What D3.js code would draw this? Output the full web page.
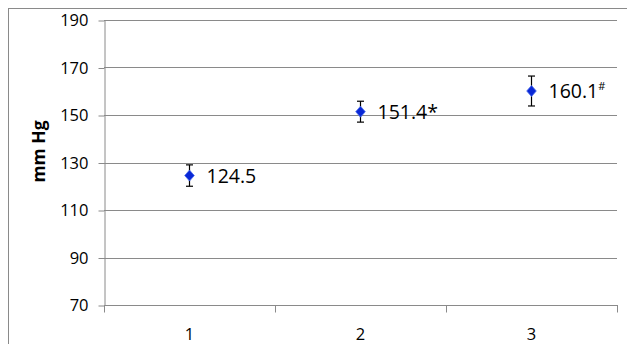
<!DOCTYPE html>
<html>
<head>
<meta charset="utf-8">
<script src="https://cdn.jsdelivr.net/npm/d3@7"></script>
<style>
  html, body { margin: 0; padding: 0; background: #fff; }
  svg { display: block; font-family: "Open Sans", "Noto Sans", sans-serif; }
</style>
</head>
<body>
<svg id="chart" width="627" height="344"></svg>
<script>
// Blood pressure by group (mean ± error)
const categories = ["1", "2", "3"];
const means = [124.5, 151.4, 160.1];
const errors = [4.5, 4.4, 6.3];
const labelMain = ["124.5", "151.4*", "160.1"];
const labelSup = ["", "", "#"];
const yTicks = [70, 90, 110, 130, 150, 170, 190];
const yTitle = "mm Hg";

const svg = d3.select("#chart");
const W = 627, H = 344;
const plot = { left: 104, top: 20, right: 617, bottom: 305 };
const grey = "#8a8a8a";

// outer chart frame (runs past the visible window on the right and bottom)
svg.append("rect")
  .attr("x", 8.5).attr("y", 8.5)
  .attr("width", W + 20).attr("height", H + 20)
  .attr("fill", "none").attr("stroke", grey).attr("stroke-width", 1);

const x = d3.scaleBand().domain(categories).range([plot.left, plot.right]).paddingInner(0).paddingOuter(0);
const y = d3.scaleLinear().domain([70, 190]).range([plot.bottom, plot.top]);

// horizontal gridlines
svg.append("g")
  .selectAll("line")
  .data(yTicks.filter(d => d !== 70))
  .join("line")
  .attr("x1", plot.left).attr("x2", plot.right)
  .attr("y1", d => Math.round(y(d)) + 0.5).attr("y2", d => Math.round(y(d)) + 0.5)
  .attr("stroke", grey).attr("stroke-width", 1);

// y axis
const yAxis = svg.append("g")
  .attr("transform", `translate(${plot.left + 0.5},0.5)`)
  .call(d3.axisLeft(y).tickValues(yTicks).tickSize(6).tickPadding(10).tickSizeOuter(0));
yAxis.select(".domain").attr("stroke", grey);
yAxis.selectAll(".tick line").attr("stroke", grey);
yAxis.selectAll(".tick text")
  .attr("fill", "#000").attr("font-size", 16.5)
  .attr("font-family", "'Open Sans', sans-serif");

// x axis: ticks on category boundaries, labels centred in each band
const boundaries = categories.map(c => x(c)).concat([x.range()[1]]);
const xg = svg.append("g").attr("transform", `translate(0,${plot.bottom + 0.5})`);
xg.append("line")
  .attr("x1", plot.left).attr("x2", plot.right + 1)
  .attr("stroke", grey);
xg.selectAll("line.tk")
  .data(boundaries)
  .join("line").attr("class", "tk")
  .attr("x1", d => Math.round(d) + 0.5).attr("x2", d => Math.round(d) + 0.5)
  .attr("y1", 0).attr("y2", 7)
  .attr("stroke", grey);
xg.selectAll("text")
  .data(categories)
  .join("text")
  .attr("x", d => x(d) + x.bandwidth() / 2)
  .attr("y", 34.5)
  .attr("text-anchor", "middle")
  .attr("font-size", 16.5)
  .attr("fill", "#000")
  .text(d => d);

// y axis title
svg.append("text")
  .attr("transform", `translate(45,${(plot.top + plot.bottom) / 2 - 11}) rotate(-90)`)
  .attr("text-anchor", "middle")
  .attr("font-size", 17.5)
  .attr("font-weight", "bold")
  .attr("fill", "#000")
  .text(yTitle);

const pts = categories.map((c, i) => ({ c, m: means[i], e: errors[i], lab: labelMain[i], sup: labelSup[i] }));
const cx = d => x(d.c) + x.bandwidth() / 2;

// error bars
const eb = svg.append("g").attr("stroke", "#000").attr("stroke-width", 1.2);
eb.selectAll("line.v").data(pts).join("line").attr("class", "v")
  .attr("x1", cx).attr("x2", cx)
  .attr("y1", d => y(d.m + d.e)).attr("y2", d => y(d.m - d.e));
eb.selectAll("line.t").data(pts).join("line").attr("class", "t")
  .attr("x1", d => cx(d) - 3.5).attr("x2", d => cx(d) + 3.5)
  .attr("y1", d => y(d.m + d.e)).attr("y2", d => y(d.m + d.e));
eb.selectAll("line.b").data(pts).join("line").attr("class", "b")
  .attr("x1", d => cx(d) - 3.5).attr("x2", d => cx(d) + 3.5)
  .attr("y1", d => y(d.m - d.e)).attr("y2", d => y(d.m - d.e));

// diamond markers
const diamondPath = "M0,-5.5L4.8,0L0,5.5L-4.8,0Z";
svg.append("g").selectAll("path").data(pts).join("path")
  .attr("transform", d => `translate(${cx(d)},${y(d.m)})`)
  .attr("d", diamondPath)
  .attr("fill", "#0a28d6")
  .attr("stroke", "#4a6cec")
  .attr("stroke-width", 0.8);

// value labels
const lbl = svg.append("g").selectAll("text").data(pts).join("text")
  .attr("x", d => cx(d) + 17)
  .attr("y", d => y(d.m))
  .attr("dy", "0.36em")
  .attr("font-size", 19.5)
  .attr("fill", "#000");
lbl.append("tspan").text(d => d.lab);
lbl.append("tspan")
  .attr("font-size", 11)
  .attr("dy", "-0.75em")
  .text(d => d.sup);
</script>
</body>
</html>
